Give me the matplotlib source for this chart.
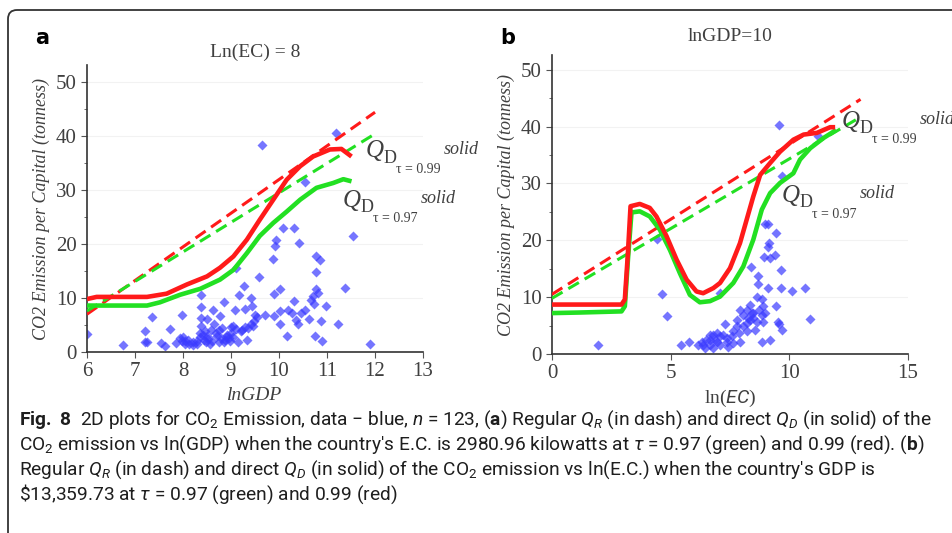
import numpy as np
import matplotlib
matplotlib.use("Agg")
import matplotlib.pyplot as plt
from matplotlib import font_manager
from matplotlib.patches import FancyBboxPatch

# --- data ---
# panel a: CO2 vs lnGDP (Ln(EC) = 8)
a_x = [6.0, 6.76, 7.2, 7.2, 7.25, 7.35, 7.55, 7.62, 7.72, 7.85, 7.97, 7.94, 7.97, 8.04, 8.1,
       8.13, 8.2, 8.29, 8.38, 8.38, 8.38, 8.38, 8.36, 8.41, 8.43, 8.36, 8.48, 8.53, 8.56, 8.58,
       8.63, 8.65, 8.69, 8.74, 8.77, 8.81, 8.86, 8.88, 8.95, 8.98, 8.92, 9.0, 9.05, 9.08, 9.1,
       9.15, 9.17, 9.22, 9.27, 9.29, 9.33, 9.35, 9.41, 9.41, 9.43, 9.48, 9.5, 9.58, 9.65, 9.71,
       9.87, 9.9, 9.9, 9.92, 9.94, 10.01, 10.02, 10.03, 10.09, 10.17, 10.19, 10.26, 10.32, 10.32,
       10.35, 10.39, 10.42, 10.45, 10.54, 10.55, 10.63, 10.66, 10.7, 10.73, 10.75, 10.77, 10.77,
       10.78, 10.82, 10.85, 10.87, 10.89, 10.97, 11.18, 11.22, 11.37, 11.54, 11.89,
       8.0, 8.05, 8.2, 8.45, 8.5, 8.6, 8.7, 8.8, 8.85, 8.9, 9.0, 9.1, 9.2, 9.3, 9.45, 9.55,
       8.5, 8.75, 9.05, 8.3]
a_y = [3.4, 1.3, 3.8, 1.9, 1.8, 6.4, 1.7, 1.1, 4.3, 1.7, 6.8, 2.6, 2.0, 1.5, 2.2,
       1.4, 1.8, 1.5, 10.6, 8.3, 6.3, 4.8, 3.5, 3.2, 2.3, 2.8, 1.8, 2.4, 1.4, 4.0,
       7.8, 5.2, 3.5, 1.8, 6.6, 4.4, 9.2, 2.3, 2.6, 2.0, 3.2, 4.7, 4.8, 7.8, 15.6,
       1.8, 10.6, 4.1, 12.3, 8.0, 2.3, 4.4, 10.0, 5.1, 8.5, 5.7, 6.9, 13.9, 38.4, 6.9,
       17.2, 10.8, 6.6, 19.6, 20.7, 11.7, 5.2, 7.5, 23.0, 3.0, 7.8, 7.2, 23.0, 9.4,
       6.0, 5.2, 20.1, 7.2, 7.8, 31.5, 6.1, 9.7, 10.3, 8.8, 2.9, 14.8, 11.7,
       17.7, 10.9, 17.1, 5.7, 2.0, 8.5, 40.6, 5.1, 11.9, 21.5, 1.5,
       2.8, 2.1, 1.3, 3.8, 2.9, 2.1, 3.0, 2.5, 1.9, 2.8, 3.6, 4.2, 3.9, 4.6, 4.9, 6.4,
       6.2, 4.0, 2.8, 2.0]

a_red_x = [6.0, 6.2, 7.25, 7.66, 8.08, 8.5, 8.77, 9.05, 9.33, 9.6, 9.88, 10.16, 10.44, 10.71, 11.06, 11.3, 11.51]
a_red_y = [9.8, 10.2, 10.2, 10.8, 12.5, 14.0, 15.6, 17.7, 20.8, 24.5, 28.2, 31.9, 34.4, 36.2, 37.5, 37.6, 36.2]
a_grn_x = [6.0, 7.25, 7.52, 7.94, 8.36, 8.77, 9.05, 9.33, 9.6, 9.88, 10.16, 10.44, 10.78, 11.13, 11.34, 11.51]
a_grn_y = [8.6, 8.6, 9.2, 10.6, 11.7, 13.4, 15.2, 18.3, 21.5, 23.9, 26.0, 28.2, 30.4, 31.3, 32.0, 31.6]
a_red_dash = ([6.0, 12.0], [7.0, 44.4])
a_grn_dash = ([6.0, 12.0], [7.6, 40.4])

# panel b: CO2 vs ln(EC) (lnGDP = 10)
b_x = [1.94, 4.43, 4.62, 4.85, 5.43, 5.78, 7.08, 9.57, 9.67, 11.19, 8.39, 8.7, 8.7, 8.95, 8.98,
       9.08, 9.16, 9.12, 9.19, 9.43, 9.4, 9.65, 9.65, 10.13, 10.67, 10.85, 9.12, 9.43, 9.52, 9.67,
       9.58, 8.84, 9.19, 8.34, 8.62, 8.84, 8.9, 8.98, 8.9, 8.55, 8.48, 8.2, 8.06, 7.92, 7.78,
       7.78, 7.64, 7.57, 7.36, 7.29, 7.08, 6.94, 6.8, 6.66, 6.51, 6.37, 6.3, 6.44, 6.8, 7.08,
       7.43, 7.64, 7.92, 8.2, 8.34, 8.48, 8.62, 8.2, 8.06, 7.86, 6.66, 6.94, 7.22, 6.66, 6.16,
       6.87, 7.36, 8.27, 8.41, 8.73, 8.84]
b_y = [1.5, 20.3, 10.6, 6.7, 1.6, 2.1, 10.7, 40.2, 31.4, 38.3, 15.3, 13.8, 12.3, 17.1, 22.9,
       22.9, 19.6, 18.9, 16.9, 21.3, 17.5, 14.7, 11.6, 11.0, 11.7, 6.2, 11.6, 8.4, 5.7, 4.3,
       5.2, 2.1, 2.5, 8.7, 10.1, 9.6, 8.4, 7.2, 5.7, 4.3, 7.2, 7.8, 6.9, 7.8, 6.0,
       4.9, 4.0, 3.1, 2.2, 5.2, 3.1, 2.2, 3.4, 1.6, 2.5, 1.6, 2.1, 1.1, 1.1, 1.6,
       1.3, 1.9, 2.2, 5.5, 6.0, 6.3, 5.7, 4.0, 4.9, 3.7, 3.4, 3.7, 3.4, 2.5, 1.6,
       2.5, 2.8, 6.3, 7.2, 7.8, 6.9]

b_red_x = [0.0, 2.93, 3.07, 3.2, 3.31, 3.7, 4.12, 4.4, 4.83, 5.25, 5.67, 6.09, 6.37, 6.8, 7.08,
           7.5, 7.92, 8.2, 8.48, 8.77, 9.19, 9.61, 10.17, 10.6, 11.16, 11.72, 11.93]
b_red_y = [8.7, 8.7, 9.6, 17.8, 26.0, 26.4, 25.7, 24.2, 20.7, 16.6, 13.1, 11.0, 10.7, 11.6, 12.5,
           15.1, 19.5, 23.6, 27.7, 31.5, 33.6, 35.6, 37.7, 38.6, 38.9, 39.9, 39.9]
b_grn_x = [0.0, 1.17, 2.93, 3.07, 3.2, 3.35, 3.7, 4.12, 4.54, 4.97, 5.39, 5.81, 6.23, 6.66, 7.08,
           7.64, 8.06, 8.48, 8.84, 9.19, 9.61, 10.17, 10.45, 10.88, 11.44, 11.97]
b_grn_y = [7.2, 7.3, 7.5, 8.4, 16.6, 24.9, 25.1, 24.2, 21.9, 18.3, 14.2, 10.4, 9.1, 9.3, 10.1,
           12.5, 15.4, 20.1, 25.4, 28.3, 30.1, 31.8, 34.2, 36.2, 38.0, 39.4]
b_red_dash = ([0.0, 13.0], [10.5, 44.8])
b_grn_dash = ([0.0, 12.8], [9.8, 41.2])

caption_lines = [
    r"$\mathbf{Fig.\ 8}$  2D plots for CO$_2$ Emission, data $-$ blue, $n$ = 123, ($\mathbf{a}$) Regular $Q_R$ (in dash) and direct $Q_D$ (in solid) of the",
    r"CO$_2$ emission vs ln(GDP) when the country's E.C. is 2980.96 kilowatts at $\tau$ = 0.97 (green) and 0.99 (red). ($\mathbf{b}$)",
    r"Regular $Q_R$ (in dash) and direct $Q_D$ (in solid) of the CO$_2$ emission vs ln(E.C.) when the country's GDP is",
    r"\$13,359.73 at $\tau$ = 0.97 (green) and 0.99 (red)",
]

# --- fonts ---
names = {f.name for f in font_manager.fontManager.ttflist}
cap_font = 'Liberation Sans Narrow' if 'Liberation Sans Narrow' in names else 'Roboto'
serif = 'Liberation Serif'
plt.rcParams['mathtext.fontset'] = 'custom'
plt.rcParams['mathtext.rm'] = cap_font
plt.rcParams['mathtext.it'] = cap_font + ':italic'
plt.rcParams['mathtext.bf'] = cap_font + ':bold'

RED = '#ff1a1a'
GRN = '#22e022'
BLUE = '#3a3aff'
TXT = '#404040'

fig = plt.figure(figsize=(9.53, 5.33), dpi=100)

# rounded frame around the figure
frame = FancyBboxPatch((0.08, -1.0), 12.0, 6.23, boxstyle='round,pad=0,rounding_size=0.09',
                       transform=fig.dpi_scale_trans, fill=False, ec='#333333', lw=1.3)
fig.add_artist(frame)

ax1 = fig.add_axes([0.0913, 0.3396, 0.3526, 0.538])
ax2 = fig.add_axes([0.5792, 0.3358, 0.3736, 0.561])


def style_axes(ax, xlim, ylim, xmajor):
    ax.set_xlim(*xlim)
    ax.set_ylim(*ylim)
    ax.set_xticks(xmajor)
    ax.set_yticks([0, 10, 20, 30, 40, 50])
    ax.set_yticks([5, 15, 25, 35, 45], minor=True)
    for s in ['top', 'right']:
        ax.spines[s].set_visible(False)
    for s in ['left', 'bottom']:
        ax.spines[s].set_color('#333333')
        ax.spines[s].set_linewidth(1.2)
    ax.tick_params(which='both', direction='out', color='#555555', labelcolor=TXT)
    ax.tick_params(which='major', length=4, labelsize=15)
    ax.tick_params(which='minor', length=2.5)
    for lab in ax.get_xticklabels() + ax.get_yticklabels():
        lab.set_family(serif)
    ax.grid(axis='y', color='#f2f2f2', lw=0.8)
    ax.set_axisbelow(True)


def q_label(ax, x, y, tau):
    # Q_D with tau subscript and "solid" superscript, built from separate pieces
    ax.annotate('Q', (x, y), xytext=(0, 0), textcoords='offset points', fontsize=18,
                family=serif, style='italic', color=TXT, va='center', ha='left', annotation_clip=False)
    ax.annotate('D', (x, y), xytext=(12.5, -5), textcoords='offset points', fontsize=13,
                family=serif, color=TXT, va='center', ha='left', annotation_clip=False)
    ax.annotate('\u03c4 = ' + tau, (x, y), xytext=(21.5, -13), textcoords='offset points', fontsize=10,
                family=serif, color=TXT, va='center', ha='left', annotation_clip=False)
    ax.annotate('solid', (x, y), xytext=(56, 1.5), textcoords='offset points', fontsize=13,
                family=serif, style='italic', color=TXT, va='center', ha='left', annotation_clip=False)


def draw_panel(ax, sx, sy, rx, ry, gx, gy, rdash, gdash):
    ax.scatter(sx, sy, marker='D', s=26, color=BLUE, alpha=0.7, lw=0, zorder=2)
    ax.plot(*rdash, color=RED, lw=2.2, dashes=(4, 2.2), zorder=3)
    ax.plot(*gdash, color=GRN, lw=2.2, dashes=(4, 2.2), zorder=3)
    ax.plot(gx, gy, color=GRN, lw=3.3, zorder=4, solid_capstyle='butt')
    ax.plot(rx, ry, color=RED, lw=3.3, zorder=5, solid_capstyle='butt')


# panel a
draw_panel(ax1, a_x, a_y, a_red_x, a_red_y, a_grn_x, a_grn_y, a_red_dash, a_grn_dash)
style_axes(ax1, (6, 13), (0, 53.1), range(6, 14))
ax1.set_title('Ln(EC) = 8', family=serif, fontsize=14, color=TXT, pad=6)
ax1.set_xlabel('lnGDP', family=serif, style='italic', fontsize=14, color=TXT, labelpad=4)
ax1.set_ylabel('CO2 Emission per Capital (tonness)', family=serif, style='italic',
               fontsize=13, color=TXT, labelpad=4)
q_label(ax1, 11.81, 37.2, '0.99')
q_label(ax1, 11.33, 28.0, '0.97')

# panel b
draw_panel(ax2, b_x, b_y, b_red_x, b_red_y, b_grn_x, b_grn_y, b_red_dash, b_grn_dash)
style_axes(ax2, (0, 15), (0, 52.6), [0, 5, 10, 15])
ax2.set_title('lnGDP=10', family=serif, fontsize=14, color=TXT, pad=10)
ax2.set_xlabel('ln($EC$)', family=serif, fontsize=14, color=TXT, labelpad=3)
ax2.set_ylabel('CO2 Emission per Capital (tonness)', family=serif, style='italic',
               fontsize=13, color=TXT, labelpad=4)
q_label(ax2, 12.22, 40.9, '0.99')
q_label(ax2, 9.69, 27.8, '0.97')

# panel letters
fig.text(42 / 953, 1 - 38 / 533, 'a', family='DejaVu Sans', weight='bold', fontsize=15,
         ha='center', va='center', color='black')
fig.text(508 / 953, 1 - 38 / 533, 'b', family='DejaVu Sans', weight='bold', fontsize=15,
         ha='center', va='center', color='black')

# caption
for i, line in enumerate(caption_lines):
    fig.text(19 / 953, 1 - (420 + 24.7 * i) / 533, line, family=cap_font, fontsize=13.8,
             ha='left', va='center', color='#1e1e1e')

fig.savefig('out.png', dpi=100)
